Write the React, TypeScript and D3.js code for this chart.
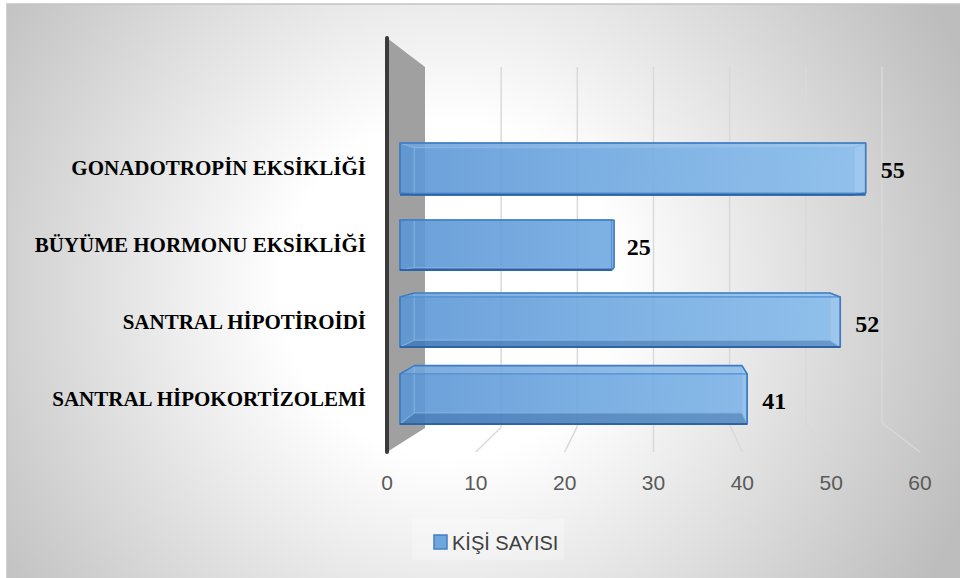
import React from "react";
import * as d3 from "d3";

const categories = [
  "GONADOTROPİN EKSİKLİĞİ",
  "BÜYÜME HORMONU EKSİKLİĞİ",
  "SANTRAL HİPOTİROİDİ",
  "SANTRAL HİPOKORTİZOLEMİ",
];
const values = [55, 25, 52, 41];
const ticks = [0, 10, 20, 30, 40, 50, 60];
const seriesName = "KİŞİ SAYISI";

const W = 960;
const H = 578;

// 3D frame scales
const xFront = d3.scaleLinear().domain([0, 60]).range([387, 920]);
const xBack = d3.scaleLinear().domain([0, 60]).range([425, 882]);
const yBackBottom = d3.scaleLinear().domain([0, 60]).range([428, 423]);
const yFrontTop = 38;
const yFrontBottom = 452;
const yBackTop = 67;

// bar front-face scales
const xBar = d3.scaleLinear().domain([0, 60]).range([400, 908]);
const yBand = d3
  .scaleBand<string>()
  .domain(categories)
  .range([104.5, 462.5])
  .paddingInner(0.35)
  .paddingOuter(0.5);

const VP: [number, number] = [655, 225];
const S = 0.944;
const proj = (p: [number, number]): [number, number] => [
  VP[0] + S * (p[0] - VP[0]),
  VP[1] + S * (p[1] - VP[1]),
];
const pts = (a: [number, number][]) => a.map((p) => p.join(",")).join(" ");

export default function App() {
  return (
    <svg
      width={W}
      height={H}
      style={{ position: "absolute", left: 0, top: 0 }}
      xmlns="http://www.w3.org/2000/svg"
    >
      <defs>
        <radialGradient id="bg" gradientUnits="userSpaceOnUse" cx={450} cy={290} r={560}>
          <stop offset="0" stopColor="#ffffff" />
          <stop offset="0.3" stopColor="#ffffff" />
          <stop offset="1" stopColor="#bdbdbd" />
        </radialGradient>
        <linearGradient id="barFill" gradientUnits="userSpaceOnUse" x1={400} y1={0} x2={900} y2={0}>
          <stop offset="0" stopColor="#5b96d5" />
          <stop offset="1" stopColor="#8ec2f0" />
        </linearGradient>
      </defs>
      <rect x={0} y={0} width={W} height={H} fill="#ffffff" />
      <rect x={7} y={4} width={W} height={H} fill="url(#bg)" stroke="#c4c4c4" strokeWidth={1.5} />

      {/* back wall gridlines */}
      {ticks.slice(1).map((t) => (
        <g key={"g" + t}>
          <line x1={xBack(t)} y1={yBackTop} x2={xBack(t)} y2={yBackBottom(t)} stroke="#d9d9d9" strokeWidth={1.5} />
          <line x1={xBack(t)} y1={yBackBottom(t)} x2={xFront(t)} y2={yFrontBottom} stroke="#d9d9d9" strokeWidth={1.5} />
        </g>
      ))}

      {/* left side wall */}
      <polygon
        points={pts([
          [xFront(0), yFrontTop],
          [xBack(0), yBackTop],
          [xBack(0), yBackBottom(0)],
          [xFront(0), yFrontBottom],
        ])}
        fill="#a0a0a0"
      />
      <line x1={xFront(0)} y1={yFrontTop} x2={xFront(0)} y2={yFrontBottom} stroke="#3a3a3a" strokeWidth={4} strokeLinecap="round" />

      {/* bars */}
      {categories.map((c, i) => {
        const v = values[i];
        const x0 = xBar(0);
        const x1 = xBar(v);
        const y0 = yBand(c)!;
        const y1 = y0 + yBand.bandwidth();
        const f: [number, number][] = [
          [x0, y0],
          [x1, y0],
          [x1, y1],
          [x0, y1],
        ];
        const b = f.map(proj);
        const hull = d3.polygonHull([...f, ...b]) as [number, number][];
        const top = [f[0], f[1], b[1], b[0]];
        const bottom = [f[3], f[2], b[2], b[3]];
        const right = [f[1], b[1], b[2], f[2]];
        return (
          <g key={c}>
            <polygon points={pts(hull)} fill="url(#barFill)" fillOpacity={0.9} />
            <polygon points={pts(top)} fill="#ffffff" fillOpacity={0.12} />
            <polygon points={pts(bottom)} fill="#1f4f8a" fillOpacity={0.35} />
            <polygon points={pts(right)} fill="#ffffff" fillOpacity={0.12} />
            <polygon points={pts(b)} fill="none" stroke="#8dbbea" strokeOpacity={0.7} strokeWidth={1.2} />
            {b.map((p, k) => (
              <line key={k} x1={f[k][0]} y1={f[k][1]} x2={p[0]} y2={p[1]} stroke="#8dbbea" strokeOpacity={0.7} strokeWidth={1.2} />
            ))}
            <polygon points={pts(f)} fill="none" stroke="#4f8fd0" strokeWidth={1.2} />
            <polygon points={pts(hull)} fill="none" stroke="#3d7cc2" strokeWidth={1.6} strokeLinejoin="round" />
            <line x1={x0} y1={Math.max(y1, b[3][1])} x2={x1} y2={Math.max(y1, b[2][1])} stroke="#2e64a6" strokeWidth={2} />
            <text
              x={x1 + 15}
              y={(y0 + y1) / 2 + 10}
              fontFamily="'Liberation Serif', 'Times New Roman', serif"
              fontWeight="bold"
              fontSize={24}
              fill="#000000"
            >
              {v}
            </text>
            <text
              x={366}
              y={(y0 + y1) / 2 + 7}
              textAnchor="end"
              fontFamily="'Liberation Serif', 'Times New Roman', serif"
              fontWeight="bold"
              fontSize={21}
              fill="#000000"
            >
              {c}
            </text>
          </g>
        );
      })}

      {/* axis tick labels */}
      {ticks.map((t) => (
        <text
          key={"t" + t}
          x={xFront(t)}
          y={490}
          textAnchor="middle"
          fontFamily="'Liberation Sans', Arial, sans-serif"
          fontSize={21}
          fill="#595959"
        >
          {t}
        </text>
      ))}

      {/* legend */}
      <rect x={412} y={519} width={152} height={41} fill="#ffffff" fillOpacity={0.25} />
      <rect x={434} y={535} width={13} height={14} fill="#6fa6dc" stroke="#3f7fc4" strokeWidth={1.5} />
      <text
        x={452}
        y={550}
        fontFamily="'Liberation Sans', Arial, sans-serif"
        fontSize={20}
        fill="#404040"
      >
        {seriesName}
      </text>
    </svg>
  );
}
